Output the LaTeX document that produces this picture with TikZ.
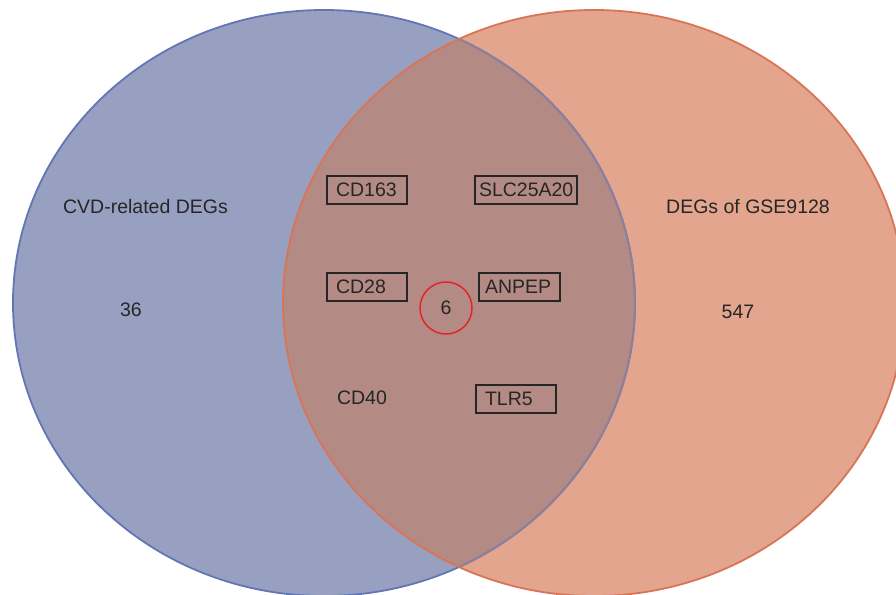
\documentclass[tikz,border=0pt]{standalone}
\usepackage{fontspec}
\setmainfont{Liberation Sans}
\definecolor{bluefill}{RGB}{151,160,193}
\definecolor{orfill}{RGB}{227,165,141}
\definecolor{ovfill}{RGB}{180,138,132}
\definecolor{blueline}{RGB}{98,118,180}
\definecolor{bluemuted}{RGB}{140,128,154}
\definecolor{orline}{RGB}{218,116,86}
\definecolor{txt}{RGB}{38,38,38}
\definecolor{ringred}{RGB}{228,36,40}
\tikzset{
  lbl/.style={text=txt, font=\fontsize{19.5}{23}\selectfont, inner sep=0pt},
  genebox/.style={lbl, draw=txt, line width=1.8pt, text width=62pt, align=left,
    inner xsep=9pt, inner ysep=0pt, minimum height=28pt},
  ring/.style={draw=ringred, line width=1.5pt, circle, minimum size=52pt, inner sep=0pt,
    text=txt, font=\fontsize{19.5}{23}\selectfont}
}
\begin{document}
\begin{tikzpicture}[x=1pt,y=-1pt]
\useasboundingbox (0,0) rectangle (896,594);
\fill[white] (0,0) rectangle (896,594);
\coordinate (B) at (324,303);
\coordinate (O) at (594,303);
\fill[bluefill] (B) ellipse [x radius=311, y radius=293];
\fill[orfill] (O) ellipse [x radius=311, y radius=293];
\begin{scope}
  \clip (B) ellipse [x radius=311, y radius=293];
  \fill[ovfill] (O) ellipse [x radius=311, y radius=293];
\end{scope}
\draw[blueline, line width=1.8pt] (B) ellipse [x radius=311, y radius=293];
\begin{scope}
  \clip (O) ellipse [x radius=311, y radius=293];
  \draw[bluemuted, line width=1.8pt] (B) ellipse [x radius=311, y radius=293];
\end{scope}
\draw[orline, line width=1.8pt] (O) ellipse [x radius=311, y radius=293];

\node[lbl] (setA) at (145.5,207) {CVD-related DEGs};
\node[lbl] (nA) at (131,310) {36};
\node[lbl] (setB) at (748,207) {DEGs of GSE9128};
\node[lbl] (nB) at (738,312) {547};

\node[genebox] (cd163) at (367,190) {CD163};
\node[genebox, text width=94pt, inner xsep=4pt] (slc) at (526,190) {SLC25A20};
\node[genebox] (cd28) at (367,287) {CD28};
\node[genebox, inner xsep=6pt, text width=69pt] (anpep) at (519.5,287) {ANPEP};
\node[lbl] (cd40) at (362,398) {CD40};
\node[genebox] (tlr5) at (516,399) {TLR5};
\node[ring] (n6) at (446,308) {6};
\end{tikzpicture}
\end{document}
